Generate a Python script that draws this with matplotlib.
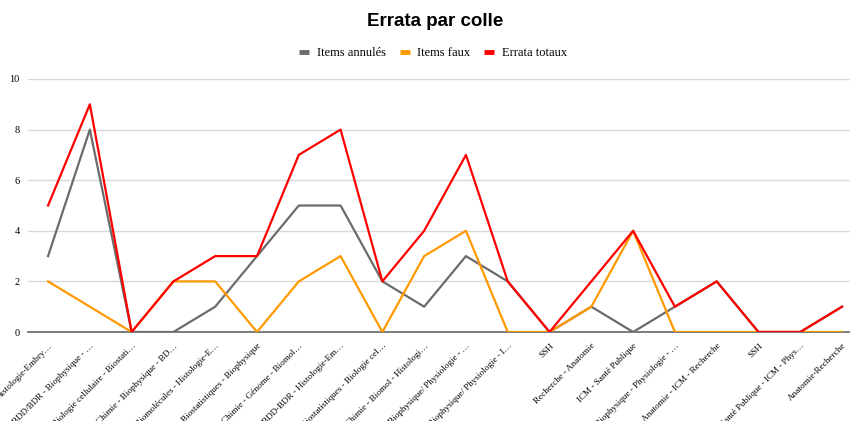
import matplotlib
matplotlib.use("Agg")
import matplotlib.pyplot as plt
from matplotlib.lines import Line2D

categories = [
    "Histologie-Embry…", "BDD/BDR - Biophysique - …", "Biologie cellulaire - Biostati…",
    "Chimie - Biophysique - BD…", "Biomolécules - Histologie-E…", "Biostatistiques - Biophysique",
    "Chimie - Génome - Biomol…", "BDD-BDR - Histologie-Em…", "Biostatistiques - Biologie cel…",
    "Chimie - Biomol - Histologi…", "Biophysique/ Physiologie - …", "Biophysique/ Physiologie - I…",
    "SSH", "Recherche - Anatomie", "ICM - Santé Publique", "Biophysique - Physiologie - …",
    "Anatomie - ICM - Recherche", "SSH", "Santé Publique - ICM - Phys…", "Anatomie-Recherche",
]
items_annules = [3, 8, 0, 0, 1, 3, 5, 5, 2, 1, 3, 2, 0, 1, 0, 1, 2, 0, 0, 1]
items_faux    = [2, 1, 0, 2, 2, 0, 2, 3, 0, 3, 4, 0, 0, 1, 4, 0, 0, 0, 0, 0]
errata_totaux = [5, 9, 0, 2, 3, 3, 7, 8, 2, 4, 7, 2, 0, 2, 4, 1, 2, 0, 0, 1]
yticks = [0, 2, 4, 6, 8, 10]

serif = ["Liberation Serif", "DejaVu Serif"]

fig = plt.figure(figsize=(8.5, 4.21), dpi=100)
ax = fig.add_axes([28/850, (421-332)/421, 1 - 28/850, (332-79)/421])

x = list(range(len(categories)))
c_gray, c_orange, c_red = "#6b6b6b", "#ff9900", "#ff0000"
ax.plot(x, items_annules, color=c_gray, lw=1.6, zorder=3)
ax.plot(x, items_faux, color=c_orange, lw=1.6, zorder=4)
ax.plot(x, errata_totaux, color=c_red, lw=1.6, zorder=5)

ax.set_ylim(0, 10)
ax.set_xlim(-0.48, 19.19)
ax.set_yticks(yticks)
ax.set_yticklabels([str(v) for v in yticks], fontfamily=serif, fontsize=7.5)
ax.set_xticks(x)
ax.set_xticklabels(categories, rotation=45, ha="right", rotation_mode="anchor",
                   fontfamily=serif, fontsize=6.6)
ax.tick_params(axis="both", length=0)
ax.tick_params(axis="x", pad=7)
ax.tick_params(axis="y", pad=6)
ax.grid(axis="y", color="#d9d9d9", lw=1)
ax.set_axisbelow(True)
for s in ["top", "right", "left"]:
    ax.spines[s].set_visible(False)
ax.spines["bottom"].set_color("#666666")
ax.spines["bottom"].set_linewidth(1.2)
ax.spines["bottom"].set_zorder(2)

fig.text(435/850, 1 - 21/421, "Errata par colle", ha="center", va="center",
         fontsize=13.5, fontweight="bold", fontfamily=["Liberation Sans", "DejaVu Sans"])

handles = [Line2D([], [], color=c, lw=3.5, solid_capstyle="butt") for c in (c_gray, c_orange, c_red)]
fig.legend(handles, ["Items annulés", "Items faux", "Errata totaux"], loc="center",
           bbox_to_anchor=(433/850, 1 - 53/421), ncol=3, frameon=False,
           prop={"family": serif, "size": 9}, handlelength=0.8,
           handletextpad=0.6, columnspacing=1.1)

fig.savefig("out.png", dpi=100)
